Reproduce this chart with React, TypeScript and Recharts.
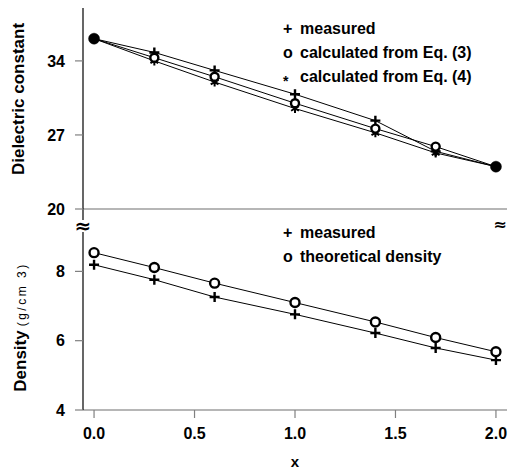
import React from 'react';
import { LineChart, Line, XAxis, YAxis, Legend } from 'recharts';

const xValues = [0, 0.3, 0.6, 1.0, 1.4, 1.7, 2.0];
const dielectricMeasured = [36.1, 34.8, 33.1, 30.85, 28.35, 25.45, 24.0];
const dielectricEq3 = [36.1, 34.3, 32.5, 30.0, 27.6, 25.9, 24.0];
const dielectricEq4 = [36.1, 34.0, 32.0, 29.5, 27.2, 25.3, 24.0];
const densityMeasured = [8.19, 7.76, 7.26, 6.76, 6.22, 5.79, 5.44];
const densityTheoretical = [8.54, 8.11, 7.66, 7.1, 6.54, 6.09, 5.68];

const xTicks = [0, 0.5, 1.0, 1.5, 2.0];
const dielectricTicks = [20, 27, 34];
const densityTicks = [4, 6, 8];

const dielectricLegend = [
  { symbol: '+', label: 'measured' },
  { symbol: 'o', label: 'calculated from Eq. (3)' },
  { symbol: '*', label: 'calculated from Eq. (4)' },
];
const densityLegend = [
  { symbol: '+', label: 'measured' },
  { symbol: 'o', label: 'theoretical density' },
];

const dielectricData = xValues.map((x, i) => ({
  x,
  m: dielectricMeasured[i],
  c3: dielectricEq3[i],
  c4: dielectricEq4[i],
  coincide: dielectricMeasured[i] === dielectricEq3[i] && dielectricEq3[i] === dielectricEq4[i],
}));
const densityData = xValues.map((x, i) => ({
  x,
  m: densityMeasured[i],
  t: densityTheoretical[i],
}));

const FONT = '"Liberation Sans", Arial, sans-serif';
const tickStyle = { fontFamily: FONT, fontSize: 16, fontWeight: 'bold', fill: '#000' };

const PlusDot = (props: any) => {
  const { cx, cy, index } = props;
  if (cx == null || cy == null) return null;
  const s = 5;
  return (
    <path
      key={`p-${index}`}
      d={`M${cx - s},${cy}H${cx + s}M${cx},${cy - s}V${cy + s}`}
      stroke="#000"
      strokeWidth={2.4}
      fill="none"
    />
  );
};

const makeCircleDot = (r: number) => (props: any) => {
  const { cx, cy, index, payload } = props;
  if (cx == null || cy == null) return null;
  if (payload && payload.coincide) {
    return <circle key={`c-${index}`} cx={cx} cy={cy} r={5.5} fill="#000" stroke="#000" strokeWidth={0.5} />;
  }
  return <circle key={`c-${index}`} cx={cx} cy={cy} r={r} fill="#fff" stroke="#000" strokeWidth={2.4} />;
};

const StarDot = (props: any) => {
  const { cx, cy, index } = props;
  if (cx == null || cy == null) return null;
  const r = 4.5;
  const a = r * Math.cos(Math.PI / 6);
  const b = r * Math.sin(Math.PI / 6);
  return (
    <path
      key={`s-${index}`}
      d={`M${cx},${cy - r}V${cy + r}M${cx - a},${cy - b}L${cx + a},${cy + b}M${cx - a},${cy + b}L${cx + a},${cy - b}`}
      stroke="#000"
      strokeWidth={2}
      fill="none"
    />
  );
};

const LegendBox = ({ items }: { items: { symbol: string; label: string }[] }) => (
  <div
    style={{
      fontFamily: FONT,
      fontWeight: 'bold',
      fontSize: 16,
      lineHeight: '24px',
      color: '#000',
      whiteSpace: 'nowrap',
    }}
  >
    {items.map((it) => (
      <div key={it.label}>
        <span
          style={{
            display: 'inline-block',
            width: 17,
            position: 'relative',
            top: it.symbol === '*' ? 4 : 0,
            fontSize: it.symbol === '*' ? 14 : 16,
          }}
        >
          {it.symbol}
        </span>
        {it.label}
      </div>
    ))}
  </div>
);

const breakStyle: React.CSSProperties = {
  position: 'absolute',
  fontFamily: '"DejaVu Sans", sans-serif',
  fontWeight: 'bold',
  fontSize: 20,
  lineHeight: '12px',
  background: '#fff',
  transform: 'translate(-50%, -50%)',
  color: '#000',
};

export default function App() {
  const xDomain = [-0.055, 2.055];
  return (
    <div style={{ position: 'absolute', left: 0, top: 0, width: 509, height: 470, background: '#fff', overflow: 'hidden' }}>
      <div style={{ position: 'absolute', left: 0, top: 200 }}>
        <LineChart width={509} height={270} data={densityData} margin={{ top: 9, right: 2, bottom: 0, left: 0 }}>
          <XAxis
            dataKey="x"
            type="number"
            domain={xDomain}
            ticks={xTicks}
            tickFormatter={(v: number) => v.toFixed(1)}
            height={60}
            tickSize={8}
            tickMargin={10}
            tick={tickStyle}
            tickLine={{ stroke: '#808080', strokeWidth: 1.2 }}
            axisLine={{ stroke: '#6e6e6e', strokeWidth: 1.2 }}
            interval={0}
            label={{
              value: 'x',
              position: 'insideBottom',
              offset: 3,
              style: { fontFamily: FONT, fontSize: 15, fontWeight: 'bold', fill: '#000' },
            }}
          />
          <YAxis
            type="number"
            domain={[4, 9.8]}
            ticks={densityTicks}
            width={83}
            tickSize={8}
            tickMargin={10}
            tick={tickStyle}
            tickLine={{ stroke: '#808080', strokeWidth: 1.2 }}
            axisLine={{ stroke: '#000', strokeWidth: 1.2 }}
            interval={0}
          />
          <YAxis
            yAxisId="r"
            orientation="right"
            type="number"
            domain={[0, 1]}
            width={0}
            tick={false}
            tickLine={false}
            axisLine={{ stroke: '#000', strokeWidth: 1.2 }}
          />
          <Legend
            layout="vertical"
            align="center"
            verticalAlign="middle"
            wrapperStyle={{ left: 283, top: 21, width: 'auto' }}
            content={() => <LegendBox items={densityLegend} />}
          />
          <Line type="linear" dataKey="m" stroke="#000" strokeWidth={1} dot={PlusDot} isAnimationActive={false} />
          <Line type="linear" dataKey="t" stroke="#000" strokeWidth={1} dot={makeCircleDot(4.5)} isAnimationActive={false} />
        </LineChart>
      </div>
      <div style={{ position: 'absolute', left: 0, top: 0 }}>
        <LineChart width={509} height={230} data={dielectricData} margin={{ top: 8, right: 2, bottom: 18, left: 0 }}>
          <XAxis
            dataKey="x"
            type="number"
            domain={xDomain}
            ticks={xTicks}
            tick={false}
            tickLine={false}
            height={3}
            axisLine={{ stroke: '#6e6e6e', strokeWidth: 1.2 }}
          />
          <XAxis
            xAxisId="top"
            orientation="top"
            dataKey="x"
            type="number"
            domain={xDomain}
            tick={false}
            tickLine={false}
            height={0}
            axisLine={{ stroke: '#555', strokeWidth: 1.2 }}
          />
          <YAxis
            type="number"
            domain={[20, 39]}
            ticks={dielectricTicks}
            width={83}
            tickSize={8}
            tickMargin={10}
            tick={tickStyle}
            tickLine={{ stroke: '#808080', strokeWidth: 1.2 }}
            axisLine={{ stroke: '#000', strokeWidth: 1.2 }}
            interval={0}
          />
          <YAxis
            yAxisId="r"
            orientation="right"
            type="number"
            domain={[0, 1]}
            width={0}
            tick={false}
            tickLine={false}
            axisLine={{ stroke: '#000', strokeWidth: 1.2 }}
          />
          <Legend
            layout="vertical"
            align="center"
            verticalAlign="middle"
            wrapperStyle={{ left: 283, top: 17, width: 'auto' }}
            content={() => <LegendBox items={dielectricLegend} />}
          />
          <Line type="linear" dataKey="m" stroke="#000" strokeWidth={1} dot={PlusDot} isAnimationActive={false} />
          <Line type="linear" dataKey="c4" stroke="#000" strokeWidth={1} dot={StarDot} isAnimationActive={false} />
          <Line type="linear" dataKey="c3" stroke="#000" strokeWidth={1} dot={makeCircleDot(4)} isAnimationActive={false} />
        </LineChart>
      </div>
      <div style={{ ...breakStyle, left: 83, top: 226 }}>≈</div>
      <div style={{ ...breakStyle, left: 500, top: 225, fontSize: 16 }}>≈</div>
      <div
        style={{
          position: 'absolute',
          left: 19,
          top: 99,
          transform: 'translate(-50%, -50%) rotate(-90deg)',
          fontFamily: FONT,
          fontWeight: 'bold',
          fontSize: 17,
          whiteSpace: 'nowrap',
          color: '#000',
        }}
      >
        Dielectric constant
      </div>
      <div
        style={{
          position: 'absolute',
          left: 21,
          top: 327,
          transform: 'translate(-50%, -50%) rotate(-90deg)',
          fontFamily: FONT,
          whiteSpace: 'nowrap',
          color: '#000',
        }}
      >
        <span style={{ fontWeight: 'bold', fontSize: 17 }}>Density</span>
        <span style={{ fontSize: 12, letterSpacing: 2.5, marginLeft: 4 }}>(g/cm 3)</span>
      </div>
    </div>
  );
}
